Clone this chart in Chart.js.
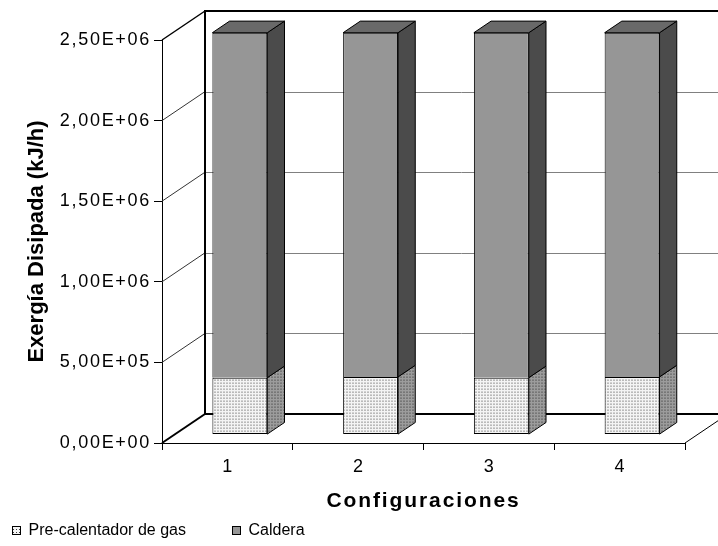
<!DOCTYPE html>
<html>
<head>
<meta charset="utf-8">
<script src="https://cdn.jsdelivr.net/npm/chart.js@4"></script>
<style>
  html, body { margin: 0; padding: 0; background: #fff; }
  canvas { display: block; }
</style>
</head>
<body>
<canvas id="chart" width="718" height="546"></canvas>
<script>
// ---- data ----
const categories = ['1', '2', '3', '4'];
const precalentador = [353000, 358000, 353000, 358000];
const caldera = [2140000, 2135000, 2140000, 2135000];
const yTicks = [0, 500000, 1000000, 1500000, 2000000, 2500000];
const seriesNames = ['Pre-calentador de gas', 'Caldera'];

// ---- look ----
const FONT = '"Liberation Sans", Arial, Helvetica, sans-serif';
const DEPTH = { dx: 43, dy: -29 };     // front plane -> back wall offset
const BAR_FRONT = 0.29;                 // bar front face position within the depth
const BAR_DEPTH = 0.40;                 // bar thickness within the depth

function sciLabel(v) {
  if (v === 0) return '0,00E+00';
  const e = Math.floor(Math.log10(Math.abs(v)) + 1e-9);
  const m = v / Math.pow(10, e);
  return m.toFixed(2).replace('.', ',') + 'E' + (e < 0 ? '-' : '+') + String(Math.abs(e)).padStart(2, '0');
}

const canvas = document.getElementById('chart');
const mainCtx = canvas.getContext('2d');

function dotPattern(bg, fg) {
  const c = document.createElement('canvas');
  c.width = 3; c.height = 3;
  const g = c.getContext('2d');
  g.fillStyle = bg; g.fillRect(0, 0, 3, 3);
  g.fillStyle = fg; g.fillRect(1, 1, 1, 1);
  return mainCtx.createPattern(c, 'repeat');
}

const preFront = dotPattern('#f4f4f4', '#3c3c3c');
const preSide = dotPattern('#9c9c9c', '#262626');

function line(ctx, x1, y1, x2, y2) {
  ctx.beginPath(); ctx.moveTo(x1, y1); ctx.lineTo(x2, y2); ctx.stroke();
}

// walls, floor and the extruded bars
const box3d = {
  id: 'box3d',
  beforeDatasetsDraw(chart) {
    const ctx = chart.ctx;
    const { left, right, top, bottom } = chart.chartArea;
    const ys = chart.scales.y;
    const W = chart.width;
    const bx = left + DEPTH.dx;
    ctx.save();
    ctx.lineCap = 'butt';
    // back wall gridlines
    ctx.strokeStyle = '#808080'; ctx.lineWidth = 1;
    yTicks.slice(1, -1).forEach(v => {
      const y = Math.round(ys.getPixelForValue(v) + DEPTH.dy) + 0.5;
      line(ctx, bx, y, W, y);
    });
    // side wall gridlines
    ctx.strokeStyle = '#333'; ctx.lineWidth = 1;
    yTicks.slice(1, -1).forEach(v => {
      const y = ys.getPixelForValue(v);
      line(ctx, left, y, bx, y + DEPTH.dy);
    });
    // wall frame
    ctx.strokeStyle = '#000'; ctx.lineWidth = 2;
    const bt = top + DEPTH.dy, bb = bottom + DEPTH.dy;
    line(ctx, bx, bt, W, bt);
    line(ctx, bx, bt - 1, bx, bb + 1);
    line(ctx, bx, bb, W, bb);
    line(ctx, left, bottom, bx, bb);
    ctx.lineWidth = 1.5;
    line(ctx, left, top, bx, bt);
    ctx.lineWidth = 1;
    line(ctx, right, bottom, right + DEPTH.dx, bb);
    ctx.restore();

    ctx.save();
    ctx.translate(DEPTH.dx * BAR_FRONT, DEPTH.dy * BAR_FRONT);
  },
  afterDatasetsDraw(chart) {
    const ctx = chart.ctx;
    const bdx = DEPTH.dx * BAR_DEPTH, bdy = DEPTH.dy * BAR_DEPTH;
    const last = chart.data.datasets.length - 1;
    ctx.lineWidth = 1; ctx.strokeStyle = '#000'; ctx.lineJoin = 'miter';
    chart.data.datasets.forEach((ds, di) => {
      const meta = chart.getDatasetMeta(di);
      meta.data.forEach(el => {
        const { x, y, base, width } = el.getProps(['x', 'y', 'base', 'width'], true);
        const l = x - width / 2, r = x + width / 2;
        ctx.beginPath();
        ctx.moveTo(r, y); ctx.lineTo(r + bdx, y + bdy);
        ctx.lineTo(r + bdx, base + bdy); ctx.lineTo(r, base);
        ctx.closePath();
        ctx.fillStyle = ds.sideColor; ctx.fill(); ctx.stroke();
        if (di === last) {
          ctx.beginPath();
          ctx.moveTo(l, y); ctx.lineTo(l + bdx, y + bdy);
          ctx.lineTo(r + bdx, y + bdy); ctx.lineTo(r, y);
          ctx.closePath();
          ctx.fillStyle = ds.topColor; ctx.fill(); ctx.stroke();
        }
      });
    });
    ctx.restore();
  }
};

// wider spacing for the value labels and the category title
const textSpacing = {
  id: 'textSpacing',
  beforeDraw(chart) {
    const wrap = (scale, fn, spacing) => {
      const key = '__ls_' + fn;
      if (scale[key]) return;
      const orig = scale[fn];
      scale[fn] = function (...args) {
        const c = this.ctx;
        const prev = c.letterSpacing;
        c.letterSpacing = spacing;
        orig.apply(this, args);
        c.letterSpacing = prev;
      };
      scale[key] = true;
    };
    wrap(chart.scales.y, 'drawLabels', '1.7px');
    wrap(chart.scales.x, 'drawTitle', '1.9px');
  }
};

// legend row under the chart
const legendRow = {
  id: 'legendRow',
  afterDraw(chart) {
    const ctx = chart.ctx;
    const xs = [12.5, 232.5];
    ctx.save();
    ctx.font = '16px ' + FONT;
    ctx.textBaseline = 'alphabetic';
    ctx.lineWidth = 1; ctx.strokeStyle = '#000';
    chart.data.datasets.forEach((ds, i) => {
      ctx.fillStyle = ds.backgroundColor;
      ctx.fillRect(xs[i], 526.5, 8, 8);
      ctx.strokeRect(xs[i], 526.5, 8, 8);
      ctx.fillStyle = '#000';
      ctx.fillText(ds.label, xs[i] + 16, 535);
    });
    ctx.restore();
  }
};

new Chart(canvas, {
  type: 'bar',
  data: {
    labels: categories,
    datasets: [
      {
        label: seriesNames[0], data: precalentador,
        backgroundColor: preFront, borderColor: '#000', borderWidth: 1, borderSkipped: false,
        sideColor: preSide,
        categoryPercentage: 1, barPercentage: 0.42, clip: false
      },
      {
        label: seriesNames[1], data: caldera,
        backgroundColor: '#969696', borderColor: '#000', borderWidth: 1, borderSkipped: 'start',
        sideColor: '#4b4b4b', topColor: '#696969',
        categoryPercentage: 1, barPercentage: 0.42, clip: false
      }
    ]
  },
  options: {
    responsive: false,
    animation: false,
    devicePixelRatio: 1,
    layout: { padding: { top: 40, right: 33, bottom: 0, left: 0 } },
    plugins: { legend: { display: false }, tooltip: { enabled: false } },
    scales: {
      x: {
        stacked: true,
        offset: true,
        grid: { offset: true, drawOnChartArea: false, color: '#000', tickLength: 7 },
        border: { color: '#000', width: 1 },
        ticks: { color: '#000', font: { family: FONT, size: 18 }, padding: 6 },
        title: {
          display: true, text: 'Configuraciones', color: '#000',
          font: { family: FONT, size: 21, weight: 'bold' },
          padding: { top: 0, bottom: 32 }
        },
        afterFit(scale) { scale.height = 103; }
      },
      y: {
        stacked: true,
        min: 0, max: 2500000,
        afterBuildTicks(scale) { scale.ticks = yTicks.map(v => ({ value: v })); },
        grid: { drawOnChartArea: false, color: '#000', tickLength: 8 },
        border: { color: '#000', width: 1 },
        ticks: { color: '#000', font: { family: FONT, size: 18 }, padding: 3, callback: v => sciLabel(v) },
        title: {
          display: true, text: 'Exergía Disipada (kJ/h)', color: '#000',
          font: { family: FONT, size: 22, weight: 'bold' },
          padding: { top: 24, bottom: 0 }
        },
        afterFit(scale) { scale.width = 162; }
      }
    }
  },
  plugins: [box3d, textSpacing, legendRow]
});
</script>
</body>
</html>
